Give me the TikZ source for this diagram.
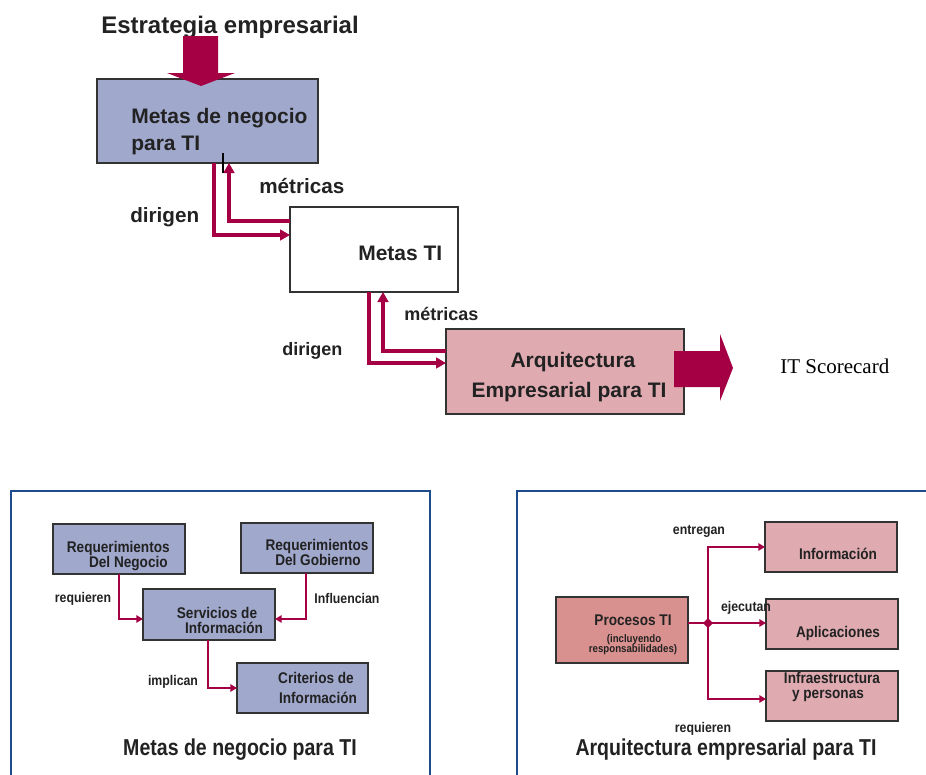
\documentclass[tikz,border=0pt]{standalone}
\usepackage{fontspec}
\setmainfont{Liberation Sans}
\newfontfamily\narf[FakeStretch=0.88]{Liberation Sans}
\newfontfamily\narg[FakeStretch=0.85]{Liberation Sans}
\newfontfamily\serf{Liberation Serif}
\usetikzlibrary{arrows.meta,fit}
\definecolor{crim}{HTML}{A50044}
\definecolor{boxblue}{HTML}{A0A8CC}
\definecolor{boxpink}{HTML}{DFABB1}
\definecolor{boxrose}{HTML}{D9918F}
\definecolor{frameblue}{HTML}{1C4C8C}
\definecolor{txt}{HTML}{222222}
\definecolor{edge}{HTML}{333333}
\tikzset{
  bx/.style={draw=edge, line width=1.1pt, inner sep=0pt, outer sep=0pt},
  bluebox/.style={bx, fill=boxblue},
  pinkbox/.style={bx, fill=boxpink},
  rosebox/.style={bx, fill=boxrose},
  whitebox/.style={bx, fill=white},
  conn/.style={draw=crim, line width=2.3pt, -{Triangle[length=7.5pt,width=8pt]}},
  conn2/.style={draw=crim, line width=2.2pt, -{Triangle[length=5pt,width=5.5pt]}},
  plain/.style={draw=crim, line width=2.2pt},
  frame/.style={draw=frameblue, line width=2.2pt},
  bigarrow/.style={fill=crim},
  tbig/.style={text=txt, inner sep=0pt, font=\fontsize{15.75pt}{18pt}\selectfont\bfseries},
  tlab/.style={text=txt, inner sep=0pt, font=\fontsize{15.5pt}{18pt}\selectfont\bfseries},
  ttop/.style={text=txt, inner sep=0pt, font=\fontsize{18pt}{21pt}\selectfont\bfseries},
  tmid/.style={text=txt, inner sep=0pt, font=\fontsize{13.5pt}{16pt}\selectfont\bfseries},
  tsm/.style={text=txt, inner sep=0pt, font=\narf\fontsize{11.6pt}{14pt}\selectfont\bfseries},
  tsl/.style={text=txt, inner sep=0pt, font=\narf\fontsize{10.5pt}{12pt}\selectfont\bfseries},
  ttiny/.style={text=txt, inner sep=0pt, font=\narf\fontsize{8.25pt}{10pt}\selectfont\bfseries},
  ttitle/.style={text=txt, inner sep=0pt, font=\narg\fontsize{17.25pt}{20pt}\selectfont\bfseries},
}
\begin{document}
\begin{tikzpicture}[x=0.75pt,y=-0.75pt]
\useasboundingbox[fill=white] (0,0) rectangle (926,775);

% ---------- top part ----------
\node[ttop, anchor=base west] (estr) at (101,33) {Estrategia empresarial};

\node[bluebox, fit={(97,79)(318,163)}] (mn) {};
\node[tbig, anchor=base west] (mnt1) at (131,123) {Metas de negocio};
\node[tbig, anchor=base west] (mnt2) at (131,150) {para TI};

\fill[bigarrow] (183,36) -- (218,36) -- (218,73) -- (235,73) -- (201,86) -- (167,73) -- (183,73) -- cycle;

\node[whitebox, fit={(290,207)(458,292)}] (mt) {};
\node[tbig, anchor=base west] (mtt) at (358,260) {Metas TI};

\node[pinkbox, fit={(446,329)(684,414)}] (ae) {};
\node[tbig, anchor=base] (aet1) at (573,367) {Arquitectura};
\node[tbig, anchor=base] (aet2) at (569,397) {Empresarial para TI};

\fill[bigarrow] (674,351) -- (720,351) -- (720,334) -- (733,368) -- (720,401) -- (720,387) -- (674,387) -- cycle;
\node[text=black, inner sep=0pt, anchor=base west, font=\serf\fontsize{15.75pt}{18pt}\selectfont] (its) at (780,373) {IT Scorecard};

\coordinate (d1) at (214,235);
\coordinate (m1) at (229,221);
\draw[conn] (mn.south -| d1) |- (mt.west |- d1);
\draw[conn] (mt.west |- m1) -| (mn.south -| m1);
\draw[black, line width=2.2pt] (223,153) -- (223,173);
\node[tlab, anchor=base west] (l1) at (259,193) {métricas};
\node[tlab, anchor=base west] (l2) at (130,222) {dirigen};

\coordinate (d2) at (369,363);
\coordinate (m2) at (383,351);
\draw[conn] (mt.south -| d2) |- (ae.west |- d2);
\draw[conn] (ae.west |- m2) -| (mt.south -| m2);
\node[tmid, anchor=base west] (l3) at (404,320) {métricas};
\node[tmid, anchor=base west] (l4) at (282,355) {dirigen};

% ---------- bottom left panel ----------
\draw[frame] (11,776) -- (11,491) -- (430,491) -- (430,776);

\node[bluebox, fit={(53,524)(185,574)}] (rn) {};
\node[tsm, anchor=base east] at (170,552) {Requerimientos};
\node[tsm, anchor=base east] at (168,567) {Del Negocio};

\node[bluebox, fit={(241,523)(373,573)}] (rg) {};
\node[tsm, anchor=base] at (317,550) {Requerimientos};
\node[tsm, anchor=base] at (318,565) {Del Gobierno};

\node[bluebox, fit={(143,589)(275,640)}] (si) {};
\node[tsm, anchor=base] at (217,618) {Servicios de};
\node[tsm, anchor=base] at (224,633) {Información};

\node[bluebox, fit={(237,663)(368,713)}] (ci) {};
\node[tsm, anchor=base] at (316,683) {Criterios de};
\node[tsm, anchor=base] at (318,703) {Información};

\coordinate (q1) at (119,619);
\coordinate (q2) at (306,619);
\coordinate (q3) at (208,688);
\draw[conn2] (rn.south -| q1) |- (si.west |- q1);
\draw[conn2] (rg.south -| q2) |- (si.east |- q2);
\draw[conn2] (si.south -| q3) |- (ci.west |- q3);
\node[tsl, anchor=base] at (83,602) {requieren};
\node[tsl, anchor=base] at (347,603) {Influencian};
\node[tsl, anchor=base] at (173,685) {implican};

\node[ttitle, anchor=base] at (240,755) {Metas de negocio para TI};

% ---------- bottom right panel ----------
\draw[frame] (517,776) -- (517,491) -- (927,491);

\node[rosebox, fit={(556,597)(688,663)}] (pt) {};
\node[tsm, anchor=base] at (633,625) {Procesos TI};
\node[ttiny, anchor=base] at (634,642) {(incluyendo};
\node[ttiny, anchor=base] at (633,652) {responsabilidades)};

\node[pinkbox, fit={(765,522)(897,572)}] (inf) {};
\node[tsm, anchor=base] at (838,559) {Información};

\node[pinkbox, fit={(766,599)(898,649)}] (apl) {};
\node[tsm, anchor=base] at (838,637) {Aplicaciones};

\node[pinkbox, fit={(766,671)(898,721)}] (ifr) {};
\node[tsm, anchor=base] at (832,683) {Infraestructura};
\node[tsm, anchor=base] at (828,698) {y personas};

\coordinate (j) at (708,623);
\coordinate (jt) at (708,547);
\coordinate (jb) at (708,699);
\draw[plain] (pt.east |- j) -- (j);
\draw[conn2] (j) -- (apl.west |- j);
\draw[conn2] (j) |- (inf.west |- jt);
\draw[conn2] (j) |- (ifr.west |- jb);
\fill[crim] (703,623) -- (708,618) -- (713,623) -- (708,628) -- cycle;

\node[tsl, anchor=base] at (699,534) {entregan};
\node[tsl, anchor=base] at (746,611) {ejecutan};
\node[tsl, anchor=base] at (703,732) {requieren};

\node[ttitle, anchor=base] at (726,755) {Arquitectura empresarial para TI};
\end{tikzpicture}
\end{document}
